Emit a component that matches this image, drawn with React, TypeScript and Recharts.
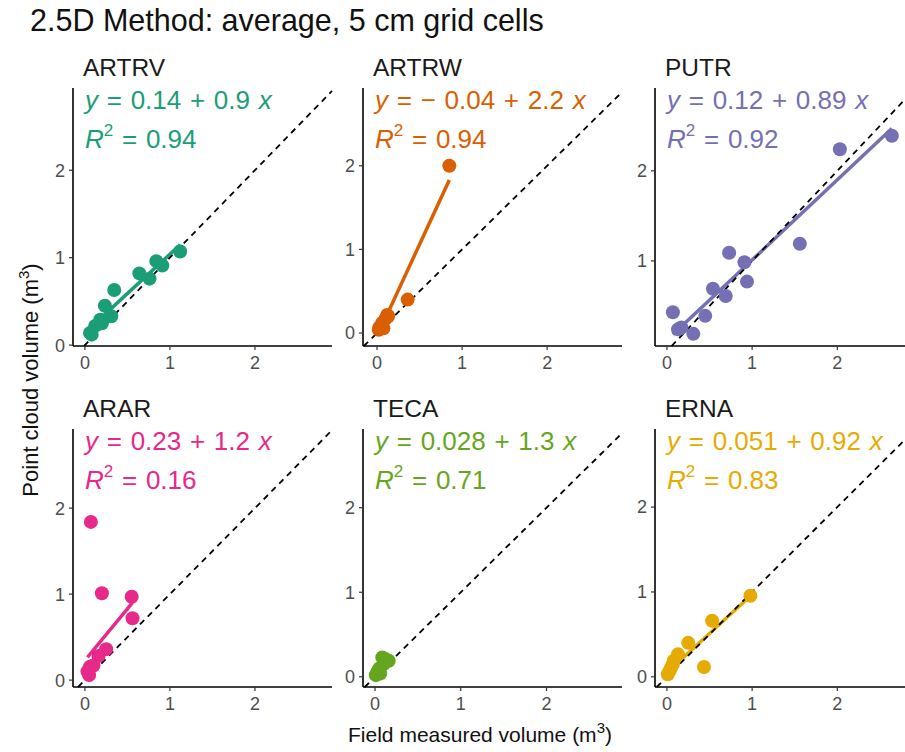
import React from 'react';
import { ScatterChart, Scatter, XAxis, YAxis, ReferenceLine } from 'recharts';

const species = ['ARTRV', 'ARTRW', 'PUTR', 'ARAR', 'TECA', 'ERNA'];
const colors = ['#1B9E77', '#D95F02', '#7570B3', '#E7298A', '#66A61E', '#E6AB02'];

// field measured (x) vs point cloud (y) volumes, m3
const artrvX = [1.12, 0.84, 0.91, 0.64, 0.76, 0.345, 0.235, 0.31, 0.18, 0.2, 0.12, 0.06, 0.08];
const artrvY = [1.07, 0.96, 0.91, 0.82, 0.76, 0.63, 0.45, 0.33, 0.29, 0.25, 0.22, 0.14, 0.12];
const artrwX = [0.85, 0.36, 0.12, 0.1, 0.075, 0.03, 0.06, 0.13, 0.02];
const artrwY = [2.0, 0.4, 0.215, 0.17, 0.056, 0.07, 0.12, 0.2, 0.04];
const putrX = [2.64, 2.03, 1.56, 0.73, 0.91, 0.94, 0.54, 0.69, 0.45, 0.07, 0.17, 0.31, 0.13];
const putrY = [2.39, 2.24, 1.19, 1.09, 0.985, 0.77, 0.69, 0.61, 0.39, 0.43, 0.26, 0.19, 0.24];
const ararX = [0.07, 0.2, 0.55, 0.56, 0.25, 0.16, 0.06, 0.03, 0.1, 0.05];
const ararY = [1.84, 1.01, 0.97, 0.72, 0.36, 0.28, 0.155, 0.1, 0.17, 0.06];
const tecaX = [0.085, 0.16, 0.02, 0.05, 0.1, 0.03, 0.12, 0.06, 0.01];
const tecaY = [0.23, 0.19, 0.03, 0.1, 0.15, 0.06, 0.21, 0.04, 0.02];
const ernaX = [0.98, 0.53, 0.25, 0.435, 0.13, 0.08, 0.05, 0.01, 0.03, 0.07];
const ernaY = [0.955, 0.66, 0.4, 0.115, 0.265, 0.19, 0.11, 0.03, 0.07, 0.15];

const xs = [artrvX, artrwX, putrX, ararX, tecaX, ernaX];
const ys = [artrvY, artrwY, putrY, ararY, tecaY, ernaY];

// fitted lines and labels
const intercepts = [0.14, -0.04, 0.12, 0.23, 0.028, 0.051];
const slopes = [0.9, 2.2, 0.89, 1.2, 1.3, 0.92];
const interceptLabels = ['0.14', '\u2212 0.04', '0.12', '0.23', '0.028', '0.051'];
const slopeLabels = ['0.9', '2.2', '0.89', '1.2', '1.3', '0.92'];
const r2Labels = ['0.94', '0.94', '0.92', '0.16', '0.71', '0.83'];

const xTicks = [0, 1, 2];
const yTicks = [0, 1, 2];

const xDomains = [
  [-0.14, 2.906], [-0.165, 2.88], [-0.14, 2.9],
  [-0.14, 2.906], [-0.14, 2.88], [-0.14, 2.9],
];
const yDomains = [
  [-0.01, 2.94], [-0.155, 2.93], [0.055, 2.92],
  [-0.08, 2.92], [-0.12, 2.93], [-0.12, 2.92],
];

const FONT = '"Liberation Sans", Arimo, Arial, sans-serif';
const PANEL_W = 259;
const PANEL_H = 258;
const colLefts = [73, 363, 655];
const rowTops = [88, 429];

const Panel = ({ i }: { i: number }) => {
  const data = xs[i].map((x, k) => ({ x, y: ys[i][k] }));
  const [x0, x1] = xDomains[i];
  const [y0, y1] = yDomains[i];
  const lo = Math.max(x0, y0);
  const hi = Math.min(x1, y1);
  const fx0 = Math.min(...xs[i]);
  const fx1 = Math.max(...xs[i]);
  const left = colLefts[i % 3] - 50;
  const top = rowTops[Math.floor(i / 3)] - 10;

  return (
    <div style={{ position: 'absolute', left, top }}>
      <ScatterChart
        width={50 + PANEL_W + 5}
        height={10 + PANEL_H + 40}
        margin={{ top: 10, right: 5, bottom: 5, left: 10 }}
      >
        <XAxis
          type="number"
          dataKey="x"
          domain={xDomains[i]}
          allowDataOverflow
          ticks={xTicks}
          height={35}
          tickSize={4}
          tickMargin={6}
          axisLine={{ stroke: '#000', strokeWidth: 1.6 }}
          tickLine={{ stroke: '#333', strokeWidth: 1.2 }}
          tick={{ fill: '#4D4D4D', fontSize: 18, fontFamily: FONT }}
        />
        <YAxis
          type="number"
          dataKey="y"
          domain={yDomains[i]}
          allowDataOverflow
          ticks={yTicks.filter((t) => t >= y0 && t <= y1)}
          width={40}
          tickSize={4}
          tickMargin={4}
          axisLine={{ stroke: '#000', strokeWidth: 1.6 }}
          tickLine={{ stroke: '#333', strokeWidth: 1.2 }}
          tick={{ fill: '#4D4D4D', fontSize: 18, fontFamily: FONT }}
        />
        <Scatter
          data={data}
          fill={colors[i]}
          isAnimationActive={false}
          shape={(p: any) => <circle cx={p.cx} cy={p.cy} r={7} fill={colors[i]} />}
        />
        <ReferenceLine
          segment={[
            { x: fx0, y: intercepts[i] + slopes[i] * fx0 },
            { x: fx1, y: intercepts[i] + slopes[i] * fx1 },
          ]}
          stroke={colors[i]}
          strokeWidth={3.5}
          ifOverflow="visible"
        />
        <ReferenceLine
          segment={[{ x: lo, y: lo }, { x: hi, y: hi }]}
          stroke="#000"
          strokeWidth={1.8}
          strokeDasharray="6 5"
          ifOverflow="visible"
        />
      </ScatterChart>
    </div>
  );
};

const Labels = () => (
  <svg
    width={905}
    height={752}
    style={{ position: 'absolute', left: 0, top: 0, pointerEvents: 'none' }}
    fontFamily={FONT}
  >
    <text x={30} y={31} fontSize={30.5} fill="#111">
      2.5D Method: average, 5 cm grid cells
    </text>
    <text x={38} y={380} fontSize={22} fill="#111" textAnchor="middle" transform="rotate(-90 38 380)">
      Point cloud volume (m<tspan dy={-9} fontSize={15}>3</tspan>
      <tspan dy={9}>)</tspan>
    </text>
    <text x={480} y={742} fontSize={21} fill="#111" textAnchor="middle">
      Field measured volume (m<tspan dy={-9} fontSize={15}>3</tspan>
      <tspan dy={9}>)</tspan>
    </text>
    {species.map((name, i) => {
      const px = colLefts[i % 3];
      const py = rowTops[Math.floor(i / 3)];
      return (
        <g key={name}>
          <text x={px + 10} y={py - 12} fontSize={24.5} fill="#1A1A1A">
            {name}
          </text>
          <text x={px + 12} y={py + 21} fontSize={26} fill={colors[i]} wordSpacing={1.5}>
            <tspan fontStyle="italic">y</tspan>
            {` = ${interceptLabels[i]} + ${slopeLabels[i]} `}
            <tspan fontStyle="italic">x</tspan>
          </text>
          <text x={px + 12} y={py + 60} fontSize={26} fill={colors[i]} wordSpacing={1.5}>
            <tspan fontStyle="italic">R</tspan>
            <tspan dy={-12} fontSize={17}>2</tspan>
            <tspan dy={12}>{` = ${r2Labels[i]}`}</tspan>
          </text>
        </g>
      );
    })}
  </svg>
);

export default function App() {
  return (
    <div
      style={{
        position: 'absolute',
        left: 0,
        top: 0,
        width: 905,
        height: 752,
        overflow: 'hidden',
        background: '#fff',
        fontFamily: FONT,
      }}
    >
      {species.map((name, i) => (
        <Panel key={name} i={i} />
      ))}
      <Labels />
    </div>
  );
}
